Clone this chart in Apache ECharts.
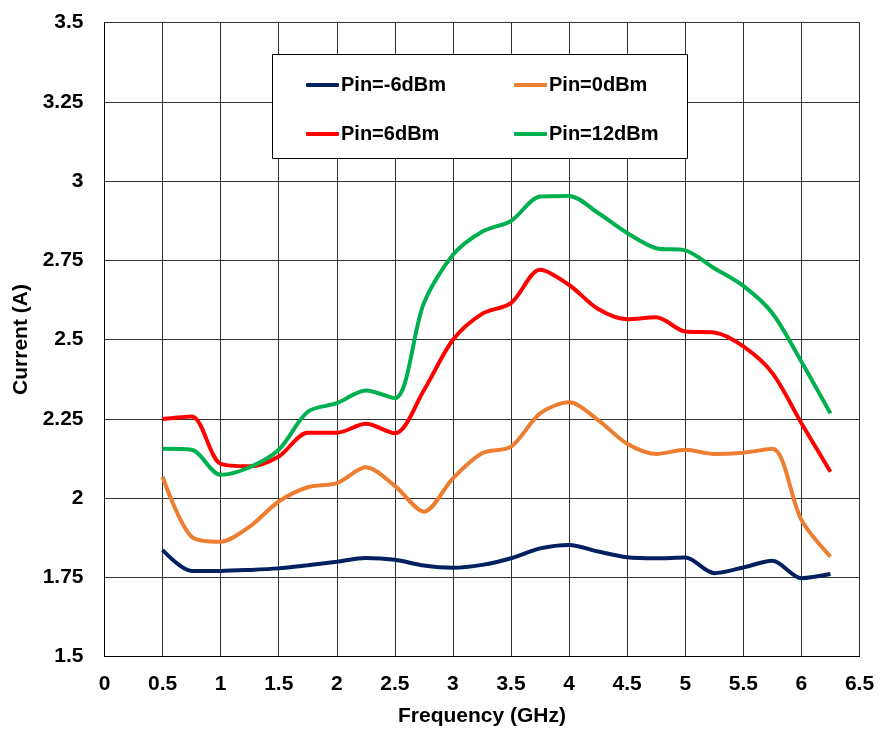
<!DOCTYPE html>
<html><head><meta charset="utf-8">
<script src="https://cdn.jsdelivr.net/npm/echarts@6/dist/echarts.min.js"></script>
<style>html,body{margin:0;padding:0;background:#fff}#c{width:880px;height:732px}</style>
</head><body><div id="c"></div>
<script>
var freq = [0.5,0.75,1,1.25,1.5,1.75,2,2.25,2.5,2.75,3,3.25,3.5,3.75,4,4.25,4.5,4.75,5,5.25,5.5,5.75,6,6.25];
var pinM6 = [1.836,1.770,1.770,1.773,1.778,1.788,1.799,1.811,1.805,1.787,1.780,1.789,1.810,1.841,1.852,1.831,1.813,1.810,1.812,1.763,1.781,1.802,1.747,1.760];
var pin0  = [2.067,1.878,1.862,1.910,1.989,2.034,2.047,2.097,2.038,1.957,2.062,2.141,2.162,2.267,2.302,2.246,2.171,2.139,2.152,2.139,2.143,2.155,1.931,1.815];
var pin6  = [2.249,2.257,2.108,2.100,2.131,2.206,2.206,2.234,2.204,2.340,2.499,2.581,2.615,2.720,2.672,2.596,2.564,2.570,2.525,2.522,2.478,2.394,2.236,2.083];
var pin12 = [2.155,2.152,2.073,2.097,2.152,2.272,2.299,2.339,2.315,2.615,2.767,2.840,2.874,2.951,2.953,2.899,2.836,2.788,2.781,2.725,2.669,2.583,2.430,2.267];
var seriesNames = ['Pin=-6dBm','Pin=0dBm','Pin=6dBm','Pin=12dBm'];
var colors = ['#002060','#ED7D31','#FF0000','#00B050'];
var xTitle = 'Frequency (GHz)';
var yTitle = 'Current (A)';

function pairs(ys){ return freq.map(function(x,i){ return [x, ys[i]]; }); }
var all = [pinM6, pin0, pin6, pin12];
var font = 'Liberation Sans, Arial, sans-serif';

var chart = echarts.init(document.getElementById('c'), null, {renderer:'canvas'});
chart.setOption({
  animation:false,
  backgroundColor:'#fff',
  grid:{left:104.5, right:20.5, top:22.5, bottom:75.5, show:true, borderColor:'#000', borderWidth:1},
  xAxis:{type:'value', min:0, max:6.5, interval:0.5,
    name:xTitle, nameLocation:'middle', nameGap:49,
    nameTextStyle:{fontFamily:font, fontWeight:'bold', fontSize:21, color:'#000'},
    axisLine:{show:true, lineStyle:{color:'#000', width:1}},
    axisTick:{show:false},
    axisLabel:{fontFamily:font, fontWeight:'bold', fontSize:21, color:'#000', margin:17},
    splitLine:{show:true, lineStyle:{color:'#333', width:1}}},
  yAxis:{type:'value', min:1.5, max:3.5, interval:0.25,
    name:yTitle, nameLocation:'middle', nameGap:70, nameRotate:90,
    nameTextStyle:{fontFamily:font, fontWeight:'bold', fontSize:21, color:'#000'},
    axisLine:{show:true, lineStyle:{color:'#000', width:1}},
    axisTick:{show:false},
    axisLabel:{fontFamily:font, fontWeight:'bold', fontSize:21, color:'#000', margin:21},
    splitLine:{show:true, lineStyle:{color:'#333', width:1}}},
  graphic:[{type:'rect', z:3, shape:{x:272.5, y:54.5, width:415, height:104},
    style:{fill:'#fff', stroke:'#000', lineWidth:1}}],
  legend:[
    {data:[seriesNames[0], seriesNames[2]], orient:'vertical', left:301, top:70, itemGap:29,
     itemWidth:33, itemHeight:4, icon:'roundRect', z:5,
     textStyle:{fontFamily:font, fontWeight:'bold', fontSize:20, color:'#000', padding:[0,0,0,-3]}},
    {data:[seriesNames[1], seriesNames[3]], orient:'vertical', left:509, top:70, itemGap:29,
     itemWidth:33, itemHeight:4, icon:'roundRect', z:5,
     textStyle:{fontFamily:font, fontWeight:'bold', fontSize:20, color:'#000', padding:[0,0,0,-3]}}
  ],
  series: all.map(function(ys,i){ return {
    name:seriesNames[i], type:'line', data:pairs(ys), smooth:0.3, showSymbol:false, symbol:'none',
    color:colors[i], lineStyle:{color:colors[i], width:4}, z:2
  };})
});
</script></body></html>
